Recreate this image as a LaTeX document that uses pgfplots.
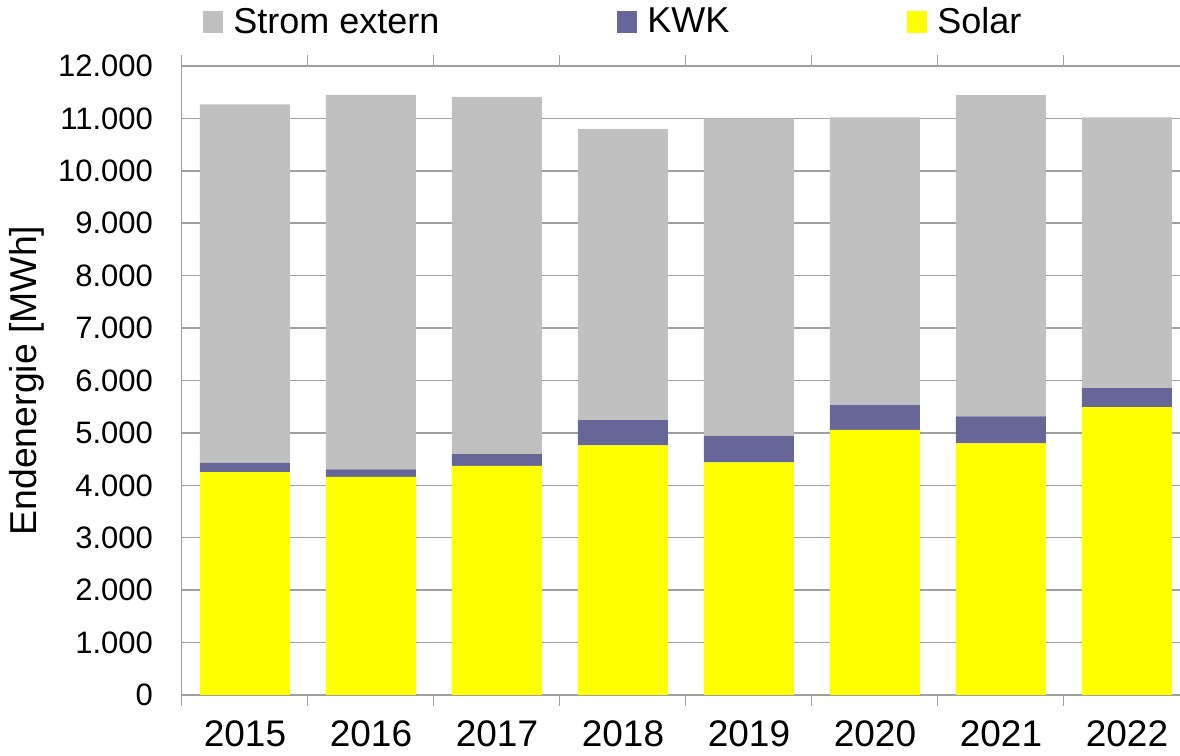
\documentclass[border=0pt]{standalone}
\usepackage{fontspec}
\setmainfont{Liberation Sans}
\usepackage{pgfplots}
\pgfplotsset{compat=1.18}
\definecolor{strom}{HTML}{C0C0C0}
\definecolor{kwk}{HTML}{666699}
\definecolor{solar}{HTML}{FFFF00}
\definecolor{gridc}{HTML}{A0A0A0}
\begin{document}
\begin{tikzpicture}
\useasboundingbox (-91pt,-30.5pt) rectangle (499pt,347.5pt);
\begin{axis}[
  scale only axis, width=504pt, height=314.5pt,
  anchor=south west, at={(0,0)},
  ybar stacked, bar width=45pt,
  xmin=-0.5, xmax=7.5, ymin=0, ymax=12000,
  xtick={0,...,7},
  xticklabels={2015,2016,2017,2018,2019,2020,2021,2022},
  ytick={0,1000,...,12000},
  scaled y ticks=false,
  major tick length=0pt,
  extra x ticks={-0.5,0.5,...,7.5},
  extra x tick labels={},
  extra x tick style={major tick length=5.5pt, tick align=outside, tick style={draw=gridc, line width=0.5pt}},
  axis line style={draw=gridc, line width=0.5pt},
  ymajorgrids, grid style={draw=gridc, line width=0.75pt},
  yticklabel style={font=\fontsize{15.5}{18}\selectfont, xshift=-11pt, /pgf/number format/1000 sep={.}, /pgf/number format/assume math mode=true},
  xticklabel style={font=\fontsize{18.5}{20}\selectfont, yshift=-9.5pt},
  ylabel={Endenergie [MWh]},
  ylabel style={font=\fontsize{18.7}{20}\selectfont, at={(axis description cs:-0.1538,0.5)}, anchor=center},
  reverse legend,
  legend columns=3,
  legend image code/.code={\fill[#1,draw=none] (0pt,-5.5pt) rectangle (10pt,5.5pt);},
  legend style={draw=none, fill=none, inner sep=0pt, at={(axis description cs:0,1)}, anchor=west, xshift=10.5pt, yshift=22pt,
    font=\fontsize{18}{20}\selectfont, nodes={inner sep=0pt},
    /tikz/every odd column/.append style={column sep=5pt},
    /tikz/every even column/.append style={column sep=89pt}},
]
\addplot[fill=solar, draw=none] coordinates {(0,4250) (1,4160) (2,4370) (3,4760) (4,4440) (5,5060) (6,4800) (7,5490)};
\addlegendentry{Solar}
\addplot[fill=kwk, draw=none] coordinates {(0,180) (1,145) (2,225) (3,485) (4,505) (5,472) (6,515) (7,365)};
\addlegendentry{KWK}
\addplot[fill=strom, draw=none] coordinates {(0,6840) (1,7145) (2,6815) (3,5555) (4,6055) (5,5488) (6,6130) (7,5165)};
\addlegendentry{Strom extern}
\end{axis}
\end{tikzpicture}
\end{document}
